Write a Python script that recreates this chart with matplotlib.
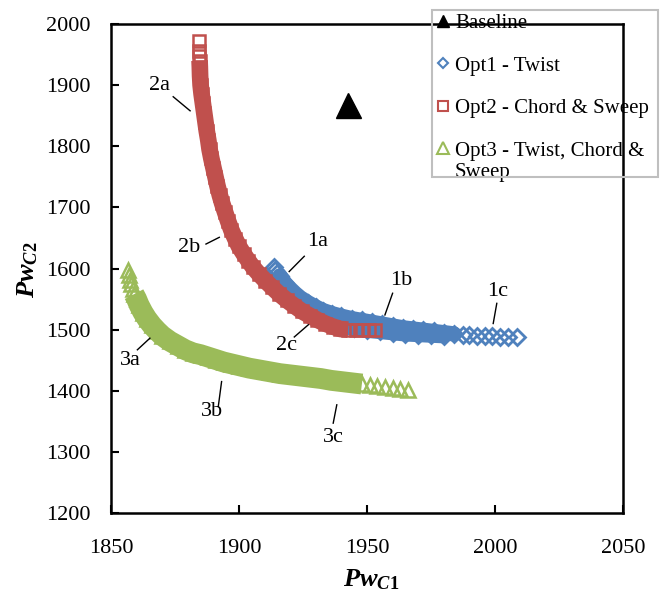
import matplotlib
matplotlib.use("Agg")
import matplotlib.pyplot as plt
from matplotlib.lines import Line2D
from matplotlib.patches import Rectangle

plt.rcParams['font.family'] = ['Liberation Serif', 'DejaVu Serif']
plt.rcParams['mathtext.fontset'] = 'custom'
plt.rcParams['mathtext.it'] = 'Liberation Serif:italic:bold'
plt.rcParams['mathtext.rm'] = 'Liberation Serif:bold'
plt.rcParams['mathtext.bf'] = 'Liberation Serif:bold'

# ---------------- data ----------------
baseline_x = [1942.5]
baseline_y = [1867]

opt1_x = [1913.5, 1914.2, 1915.0, 1916.0, 1918.0, 1920.0, 1922.0, 1924.0, 1927.0, 1930.0,
          1933.0, 1936.5, 1940.0, 1944.0, 1948.0, 1952.0, 1956.0, 1960.0, 1964.0, 1968.0,
          1972.0, 1976.0, 1980.0, 1984.0, 1987.5, 1990.0, 1993.0, 1996.0, 1999.0, 2002.0,
          2005.0, 2008.5]
opt1_y = [1603, 1598, 1593, 1588, 1576, 1567, 1559, 1552, 1544, 1537,
          1531, 1526, 1522, 1518, 1515, 1512, 1509, 1506, 1503, 1501,
          1499, 1497, 1495, 1493, 1492, 1491, 1490, 1489.5, 1489, 1488.5,
          1488, 1487.5]
opt1_low_x = [1935.0, 1940.0, 1945.0, 1950.0, 1955.0, 1960.0, 1965.0, 1970.0, 1975.0, 1980.0]
opt1_low_y = [1510, 1506, 1502, 1499, 1497, 1495, 1493, 1492, 1491, 1490]

opt2_x = [1884.2, 1884.4, 1884.5, 1884.6, 1884.7, 1884.8, 1885.0, 1885.4, 1885.9, 1886.4,
          1886.9, 1887.4, 1888.0, 1888.5, 1889.2, 1890.0, 1890.8, 1891.6, 1892.5, 1893.4,
          1894.5, 1895.7, 1897.0, 1898.5, 1900.0, 1901.8, 1903.6, 1905.5, 1907.8, 1910.3,
          1913.0, 1915.8, 1918.7, 1921.6, 1924.6, 1927.6, 1930.6, 1933.6, 1936.6, 1939.6,
          1942.6, 1945.6, 1948.2, 1950.6, 1953.0]
opt2_y = [1972, 1956, 1947, 1940, 1930, 1915, 1900, 1885, 1870, 1855,
          1840, 1825, 1810, 1795, 1780, 1765, 1750, 1735, 1720, 1707,
          1693, 1678, 1663, 1649, 1636, 1624, 1613, 1602, 1591, 1580,
          1569, 1558, 1548, 1539, 1530, 1523, 1516, 1510, 1505, 1501,
          1500, 1500, 1500, 1500, 1500]

opt3_x = [1856.6, 1857.0, 1857.5, 1858.0, 1858.5, 1859.0, 1860.0, 1861.0, 1862.5, 1864.0,
          1866.0, 1868.0, 1870.0, 1873.0, 1876.0, 1879.0, 1882.0, 1885.0, 1888.0, 1891.0,
          1894.0, 1897.0, 1900.0, 1904.0, 1908.0, 1912.0, 1916.0, 1920.0, 1924.0, 1928.0,
          1932.0, 1936.0, 1940.0, 1944.0, 1948.0, 1951.0, 1954.0, 1957.0, 1960.0, 1963.0,
          1966.0]
opt3_y = [1598, 1590, 1582, 1574, 1566, 1558, 1550, 1540, 1528, 1518,
          1507, 1498, 1490, 1481, 1474, 1467, 1462, 1459, 1455, 1451,
          1447, 1444, 1441, 1437, 1434, 1431, 1428, 1426, 1424, 1422,
          1420, 1417, 1415, 1413, 1411, 1409, 1407, 1406, 1404.5, 1403,
          1401]

label_text = ['2a', '2b', '1a', '1b', '1c', '2c', '3a', '3b', '3c']
label_pos = [(1868.9, 1899), (1880.7, 1634), (1930.7, 1644), (1963.5, 1581), (2001.0, 1562),
             (1918.6, 1474), (1857.4, 1449), (1889.6, 1366), (1936.7, 1324)]
leader_start = [(1874.3, 1881), (1887.1, 1640), (1925.5, 1620), (1960.0, 1559.5), (2000.7, 1543),
                (1921.6, 1488), (1860.3, 1467), (1891.9, 1374), (1936.8, 1347)]
leader_end = [(1880.9, 1858), (1892.3, 1651), (1919.6, 1595), (1957.0, 1524), (1999.3, 1510),
              (1927.1, 1508), (1865.2, 1486), (1893.2, 1415), (1938.2, 1377)]

xticks = [1850, 1900, 1950, 2000, 2050]
yticks = [1200, 1300, 1400, 1500, 1600, 1700, 1800, 1900, 2000]

legend_labels = ['Baseline', 'Opt1 - Twist', 'Opt2 - Chord & Sweep', 'Opt3 - Twist, Chord &']
legend_overflow = 'Sweep'

c_blue = '#4f81bd'
c_red = '#c0504d'
c_green = '#9bbb59'

# ---------------- figure ----------------
W, H = 661, 599
fig = plt.figure(figsize=(W / 100, H / 100), dpi=100)
ax = fig.add_axes([111 / W, 1 - 513 / H, 512 / W, 489 / H])

# baseline
ax.plot(baseline_x, baseline_y, linestyle='none', marker='^', markersize=18,
        color='black', zorder=5)

# Opt1 (blue diamonds)
ax.plot(opt1_x[3:24], opt1_y[3:24], color=c_blue, lw=11, solid_capstyle='round', zorder=2)
ax.plot(opt1_low_x, opt1_low_y, color=c_blue, lw=11, solid_capstyle='round', zorder=2)
ax.plot(opt1_x, opt1_y, linestyle='none', marker='D', markersize=8.5, mfc='none',
        mec=c_blue, mew=2.0, zorder=2)
ax.plot(opt1_low_x, opt1_low_y, linestyle='none', marker='D', markersize=8.5, mfc='none',
        mec=c_blue, mew=2.0, zorder=2)

# Opt2 (red squares)
ax.plot(opt2_x[3:41], opt2_y[3:41], color=c_red, lw=12, solid_capstyle='butt', zorder=3)
ax.plot(opt2_x, opt2_y, linestyle='none', marker='s', markersize=8, mfc='none',
        mec=c_red, mew=1.8, zorder=3)

# Opt3 (green triangles)
ax.plot(opt3_x[5:35], opt3_y[5:35], color=c_green, lw=15, solid_capstyle='butt', zorder=2)
ax.plot(opt3_x, opt3_y, linestyle='none', marker='^', markersize=10, mfc='none',
        mec=c_green, mew=1.8, zorder=2)

# annotations
for t, p, s, e in zip(label_text, label_pos, leader_start, leader_end):
    ax.text(p[0], p[1], t, fontsize=16, ha='center', va='center', zorder=6)
    ax.plot([s[0], e[0]], [s[1], e[1]], color='black', lw=1.0, zorder=6)

ax.set_xlim(1850, 2050)
ax.set_ylim(1200, 2000)
ax.set_xticks(xticks)
ax.set_yticks(yticks)
ax.tick_params(axis='both', direction='in', length=6, width=1.5, labelsize=16)
ax.tick_params(axis='x', pad=19)
ax.tick_params(axis='y', pad=15)
ax.tick_params(top=False, right=False)
for sp in ax.spines.values():
    sp.set_linewidth(1.8)

fig.text(371 / W, 1 - 580 / H, r'$Pw_{C1}$', fontsize=19, ha='center', va='center')
fig.text(28 / W, 1 - 270 / H, r'$Pw_{C2}$', fontsize=19, ha='center', va='center',
         rotation=90)

# legend (box drawn separately so the last label overflows like the reference)
handles = [
    Line2D([], [], linestyle='none', marker='^', markersize=9, color='black'),
    Line2D([], [], linestyle='none', marker='D', markersize=5.5, mfc='none', mec=c_blue, mew=1.5),
    Line2D([], [], linestyle='none', marker='s', markersize=7, mfc='none', mec=c_red, mew=1.5),
    Line2D([], [], linestyle='none', marker='^', markersize=8, mfc='none', mec=c_green, mew=1.5),
]
leg = fig.legend(handles, legend_labels, loc='upper left',
                 bbox_to_anchor=(422 / W, 1 + 1 / H), frameon=False, fontsize=15,
                 handlelength=0.6, handletextpad=0.3, labelspacing=1.1, borderpad=0.2)
fig.text(455 / W, 1 - 172 / H, legend_overflow, fontsize=15, ha='left', va='center')
fig.add_artist(Rectangle((432 / W, 1 - 177 / H), 226 / W, 167 / H, transform=fig.transFigure,
                         fill=False, edgecolor='#bfbfbf', lw=1.5, zorder=10))

fig.savefig('out.png', dpi=100)
